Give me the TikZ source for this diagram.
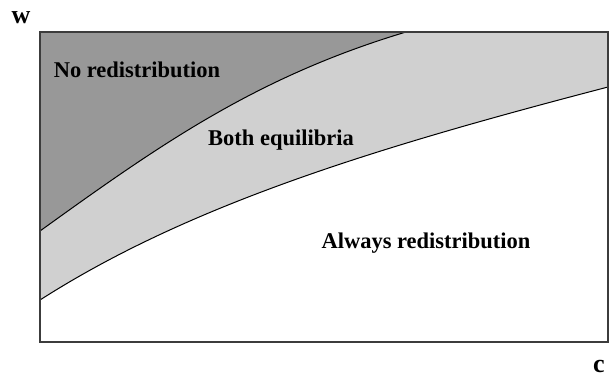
\documentclass[tikz,border=0pt]{standalone}
\usepackage{fontspec}
\setmainfont{Liberation Serif}
\definecolor{darkregion}{RGB}{152,152,152}
\definecolor{lightregion}{RGB}{208,208,208}
\definecolor{frameline}{RGB}{60,60,60}
\tikzset{
  lbl/.style={anchor=base, inner sep=0pt, font=\fontsize{22.5}{27}\selectfont\bfseries},
  axlbl/.style={anchor=base, inner sep=0pt, font=\fontsize{26}{30}\selectfont\bfseries},
  boundary/.style={line width=1pt, black},
}
\begin{document}
\begin{tikzpicture}[x=1pt, y=-1pt]
\useasboundingbox (0,0) rectangle (612,378);
\coordinate (tl) at (40,32);
\coordinate (br) at (608,342);
\coordinate (d0) at (40,231);
\coordinate (d1) at (406,32);
\coordinate (l0) at (40,300);
\coordinate (l1) at (608,87);
\coordinate (tr) at (608,32);
% light region: from top of box down to the lower curve
\fill[lightregion] (tl) -- (l0) .. controls (190,204) and (378,147) .. (l1) -- (tr) -- cycle;
% dark region
\fill[darkregion] (tl) -- (d0) .. controls (160,144.6) and (256,77) .. (d1) -- cycle;
% boundaries
\draw[boundary] (d0) .. controls (160,144.6) and (256,77) .. (d1);
\draw[boundary] (l0) .. controls (190,204) and (378,147) .. (l1);
\draw[frameline, line width=1.5pt] (tl) rectangle (br);
% labels
\node[lbl] (nr) at (137,77) {No redistribution};
\node[lbl] (be) at (281,145) {Both equilibria};
\node[lbl] (ar) at (426,248) {Always redistribution};
\node[axlbl] (w) at (21,23) {w};
\node[axlbl] (c) at (599,372) {c};
\end{tikzpicture}
\end{document}
